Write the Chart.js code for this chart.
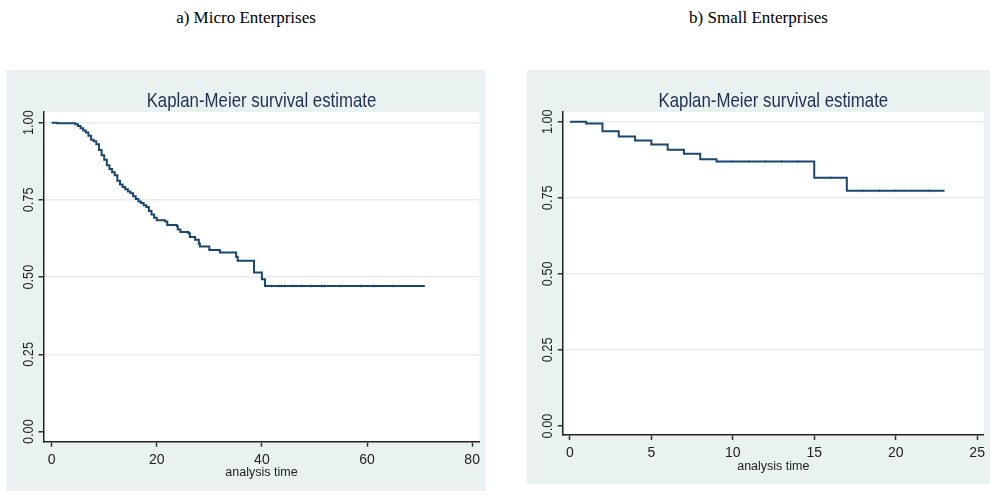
<!DOCTYPE html>
<html>
<head>
<meta charset="utf-8">
<script src="https://cdn.jsdelivr.net/npm/chart.js@4.4.1/dist/chart.umd.min.js"></script>
<style>
    body { margin: 0; background: #fff; width: 990px; height: 495px; position: relative; overflow: hidden; }
    .caption { position: absolute; top: 8px; font-family: "Liberation Serif", "Times New Roman", serif; font-size: 17px; color: #000; text-align: center; }
    .panel { position: absolute; top: 70px; background: #e9f1f1; }
</style>
</head>
<body>
<div class="caption" style="left:7px;width:478px;">a) Micro Enterprises</div>
<div class="caption" style="left:527px;width:463px;">b) Small Enterprises</div>
<div class="panel" style="left:7px;width:478px;height:421px;"><canvas id="microChart"></canvas></div>
<div class="panel" style="left:527px;width:463px;height:414px;"><canvas id="smallChart"></canvas></div>
<script>
// a) micro enterprises, Kaplan-Meier steps
let microTime = [0, 1, 4.5, 5, 5.5, 6, 6.5, 7, 7.5, 8, 8.5, 9, 9.5, 10, 10.5, 11, 11.5, 12, 12.5, 13, 13.5, 14, 14.5, 15, 15.5, 16, 16.5, 17, 17.5, 18, 18.5, 19, 19.5, 20, 21.6, 22, 23.8, 24, 24.5, 26, 26.3, 27.3, 28, 28.2, 30, 32, 35.1, 35.4, 38.5, 40, 40.6, 71];
let microSurv = [1, 0.998, 0.995, 0.989, 0.982, 0.975, 0.968, 0.958, 0.945, 0.94, 0.93, 0.912, 0.895, 0.88, 0.862, 0.85, 0.84, 0.83, 0.812, 0.8, 0.792, 0.785, 0.777, 0.772, 0.762, 0.753, 0.745, 0.74, 0.733, 0.727, 0.714, 0.703, 0.692, 0.684, 0.68, 0.669, 0.665, 0.654, 0.646, 0.642, 0.63, 0.621, 0.608, 0.599, 0.588, 0.58, 0.566, 0.553, 0.515, 0.493, 0.4715, 0.4715];
let microCensorTime = [41.8, 43.4, 44.3, 45.9, 47.5, 49.4, 51.3, 51.9, 55, 58.8, 61.3, 64.8];
let microCensorSurv = [0.4715, 0.4715, 0.4715, 0.4715, 0.4715, 0.4715, 0.4715, 0.4715, 0.4715, 0.4715, 0.4715, 0.4715];
let microXTicks = [0, 20, 40, 60, 80];

// b) small enterprises
let smallTime = [0, 1, 2, 3, 4, 5, 6, 7, 8, 9, 15, 17, 23];
let smallSurv = [1, 0.994, 0.969, 0.951, 0.938, 0.925, 0.908, 0.895, 0.877, 0.869, 0.816, 0.773, 0.773];
let smallCensorTime = [10, 11, 12, 13, 14, 16, 18, 19, 20, 21, 22];
let smallCensorSurv = [0.869, 0.869, 0.869, 0.869, 0.869, 0.816, 0.773, 0.773, 0.773, 0.773, 0.773];
let smallXTicks = [0, 5, 10, 15, 20, 25];

let yTicks = [0, 0.25, 0.5, 0.75, 1];
let yTickLabels = ["0.00", "0.25", "0.50", "0.75", "1.00"];

const chartTitle = "Kaplan-Meier survival estimate";
const xTitle = "analysis time";
const navy = "#1a476f";
const sans = "'Liberation Sans', Arial, sans-serif";

// white plot region, condensed title and rotated y labels like Stata
const stataLook = {
    id: "stataLook",
    beforeDraw(chart) {
        let a = chart.chartArea, ctx = chart.ctx;
        ctx.save();
        ctx.fillStyle = "#ffffff";
        ctx.fillRect(a.left, a.top, a.right - a.left, a.bottom - a.top);
        ctx.restore();
    },
    afterDraw(chart) {
        let a = chart.chartArea, ctx = chart.ctx, y = chart.scales.y;
        ctx.save();
        ctx.fillStyle = "#1f3050";
        ctx.font = "21px " + sans;
        ctx.textAlign = "center";
        ctx.textBaseline = "alphabetic";
        ctx.translate((a.left + a.right) / 2, a.top - 5.5);
        ctx.scale(0.8, 1);
        ctx.fillText(chartTitle, 0, 0);
        ctx.restore();

        yTicks.forEach((v, i) => {
            ctx.save();
            ctx.fillStyle = "#222";
            ctx.font = "15px " + sans;
            ctx.textAlign = "center";
            ctx.textBaseline = "alphabetic";
            ctx.translate(a.left - 16, y.getPixelForValue(v));
            ctx.rotate(-Math.PI / 2);
            ctx.scale(0.85, 1);
            ctx.fillText(yTickLabels[i], 0, 5.4);
            ctx.restore();
        });
    }
};

function makePanel(id, time, surv, cTime, cSurv, xTicks, s) {
    let ctx = document.getElementById(id).getContext("2d");
    return new Chart(ctx, {
        type: "scatter",
        data: {
            datasets: [{
                data: time.map((t, i) => ({ x: t, y: surv[i] })),
                showLine: true,
                stepped: "before",
                borderColor: navy,
                borderWidth: 2,
                pointRadius: 0
            }, {
                data: cTime.map((t, i) => ({ x: t, y: cSurv[i] })),
                pointStyle: "line",
                rotation: 90,
                pointRadius: 1.5,
                borderColor: "rgba(26, 71, 111, 0.6)",
                borderWidth: 1
            }]
        },
        options: {
            responsive: true,
            maintainAspectRatio: false,
            animation: false,
            layout: { padding: { left: 0, top: s.top, right: s.right, bottom: s.bottom } },
            plugins: {
                legend: { display: false },
                tooltip: { enabled: false },
                title: { display: false }
            },
            scales: {
                x: {
                    type: "linear",
                    min: s.xMin,
                    max: s.xMax,
                    afterBuildTicks: scale => { scale.ticks = xTicks.map(v => ({ value: v })); },
                    afterFit: scale => { scale.height = s.xHeight; },
                    border: { color: "#222", width: 1.5 },
                    grid: { drawOnChartArea: false, drawTicks: true, tickLength: 5, tickColor: "#333", tickWidth: 1.5 },
                    ticks: { color: "#222", font: { family: sans, size: 14 }, padding: 5, maxRotation: 0 },
                    title: { display: true, text: xTitle, color: "#222", font: { family: sans, size: 12.5 }, padding: 0 }
                },
                y: {
                    type: "linear",
                    min: s.yMin,
                    max: s.yMax,
                    afterBuildTicks: scale => { scale.ticks = yTicks.map(v => ({ value: v })); },
                    afterFit: scale => { scale.width = s.yWidth; },
                    border: { color: "#222", width: 1.5 },
                    grid: {
                        color: c => (c.tick && c.tick.value === 0 ? "rgba(0,0,0,0)" : "#e6eeee"),
                        lineWidth: 1.5,
                        tickLength: 5,
                        tickColor: "#333",
                        tickWidth: 1.5
                    },
                    ticks: { display: false }
                }
            }
        },
        plugins: [stataLook]
    });
}

makePanel("microChart", microTime, microSurv, microCensorTime, microCensorSurv, microXTicks, {
    top: 42, right: 2, bottom: 10.5, xHeight: 38.8, yWidth: 36.5,
    xMin: -1.55, xMax: 81.4, yMin: -0.0324, yMax: 1.0346
});

makePanel("smallChart", smallTime, smallSurv, smallCensorTime, smallCensorSurv, smallXTicks, {
    top: 42, right: 1, bottom: 9.8, xHeight: 39.2, yWidth: 35.7,
    xMin: -0.443, xMax: 25.42, yMin: -0.0296, yMax: 1.0319
});
</script>
</body>
</html>
